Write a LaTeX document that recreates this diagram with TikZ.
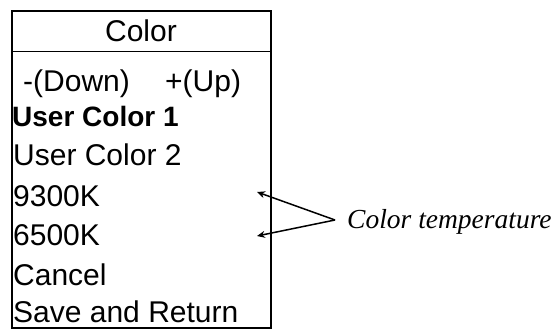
\documentclass[tikz,border=0pt]{standalone}
\usepackage{fontspec}
\usetikzlibrary{arrows.meta}
\newfontfamily\menufont{Liberation Sans}
\newfontfamily\notefont{Liberation Serif}
\begin{document}
\begin{tikzpicture}[x=1pt,y=-1pt,
    item/.style={anchor=base west,inner sep=0pt,font=\menufont\fontsize{30}{32}\selectfont}]
            \useasboundingbox (0,0) rectangle (558,329);
            \draw[line width=2pt] (11.5,11) rectangle (270.5,327.5);
            \draw[line width=1.8pt] (11.5,51.5) -- (270.5,51.5);
            \node[item,anchor=base] (title) at (141,42) {Color};
            \node[item] (down) at (23,92) {-(Down)};
            \node[item] (up) at (165,92) {+(Up)};
            \node[item,font=\menufont\bfseries\fontsize{28}{30}\selectfont] (user1) at (12,127) {User Color 1};
            \node[item] (user2) at (13,165) {User Color 2};
            \node[item] (k93) at (13,207) {9300K};
            \node[item] (k65) at (13,245) {6500K};
            \node[item] (cancel) at (13,285) {Cancel};
            \node[item] (save) at (13,322) {Save and Return};
            \node[anchor=west,inner sep=0pt,font=\notefont\itshape\fontsize{27.5}{30}\selectfont] (temp) at (347,222) {Color temperature};
            \coordinate (apex) at (335,220);
            \coordinate (t93) at (257,192);
            \coordinate (t65) at (257,236);
            \draw[line width=1.5pt,-{Stealth[length=8pt,width=7pt]}] (apex) -- (t93);
            \draw[line width=1.5pt,-{Stealth[length=8pt,width=7pt]}] (apex) -- (t65);
        \end{tikzpicture}
\end{document}
